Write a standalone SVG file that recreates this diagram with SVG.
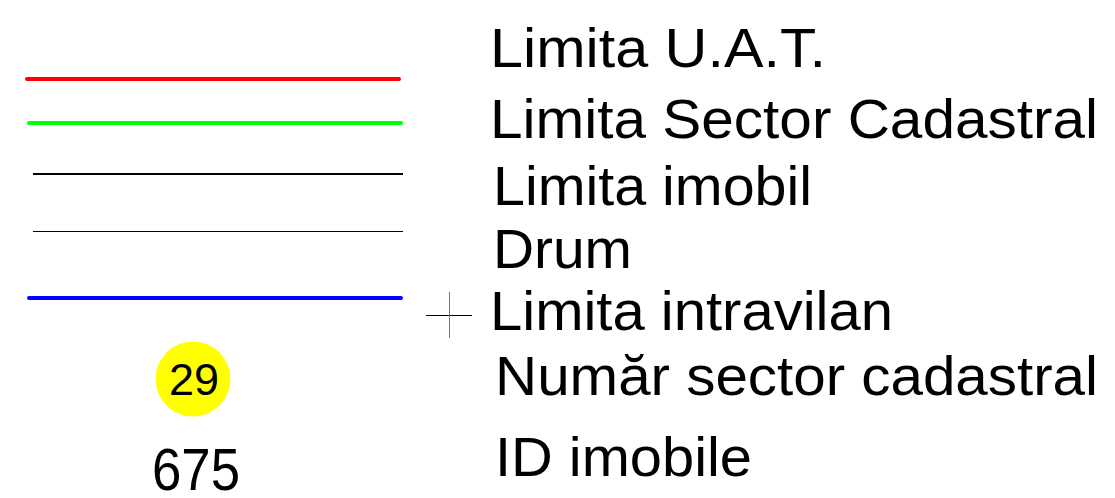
<svg xmlns="http://www.w3.org/2000/svg" width="1115" height="498" viewBox="0 0 1115 498">
<style>
.t{font-family:"Liberation Sans",Arial,sans-serif;font-size:56px;fill:#000}
.thick{stroke-width:4;stroke-linecap:round;fill:none}
</style>
<rect width="1115" height="498" fill="#fff"/>
<g id="lines">
<line class="thick" x1="27" y1="79" x2="399" y2="79" stroke="#ff0000"/>
<line class="thick" x1="29" y1="123" x2="401" y2="123" stroke="#00ff00"/>
<line x1="33" y1="174" x2="403" y2="174" stroke="#000" stroke-width="2"/>
<line x1="33" y1="231.5" x2="403" y2="231.5" stroke="#000" stroke-width="1"/>
<line class="thick" x1="29" y1="298" x2="401" y2="298" stroke="#0000ff"/>
</g>
<g id="cross">
<line x1="426" y1="315.5" x2="472" y2="315.5" stroke="#000" stroke-width="1"/>
<line x1="449.5" y1="292" x2="449.5" y2="338" stroke="#777" stroke-width="1"/>
</g>
<g id="sector">
<circle cx="193" cy="379" r="37.5" fill="#ffff00"/>
<text x="194" y="395" text-anchor="middle" style="font-family:'Liberation Sans',Arial,sans-serif;font-size:45px">29</text>
</g>
<g id="id">
<text x="152" y="490" textLength="88" lengthAdjust="spacingAndGlyphs" style="font-family:'Liberation Sans',Arial,sans-serif;font-size:60px">675</text>
</g>
<g id="labels">
<text class="t" x="490" y="67" textLength="336" lengthAdjust="spacingAndGlyphs">Limita U.A.T.</text>
<text class="t" x="490" y="138" textLength="608" lengthAdjust="spacingAndGlyphs">Limita Sector Cadastral</text>
<text class="t" x="493" y="205" textLength="319" lengthAdjust="spacingAndGlyphs">Limita imobil</text>
<text class="t" x="493" y="268" textLength="139" lengthAdjust="spacingAndGlyphs">Drum</text>
<text class="t" x="490" y="330" textLength="403" lengthAdjust="spacingAndGlyphs">Limita intravilan</text>
<text class="t" x="495" y="395" textLength="603" lengthAdjust="spacingAndGlyphs">Număr sector cadastral</text>
<text class="t" x="495" y="476" textLength="257" lengthAdjust="spacingAndGlyphs">ID imobile</text>
</g>
</svg>
